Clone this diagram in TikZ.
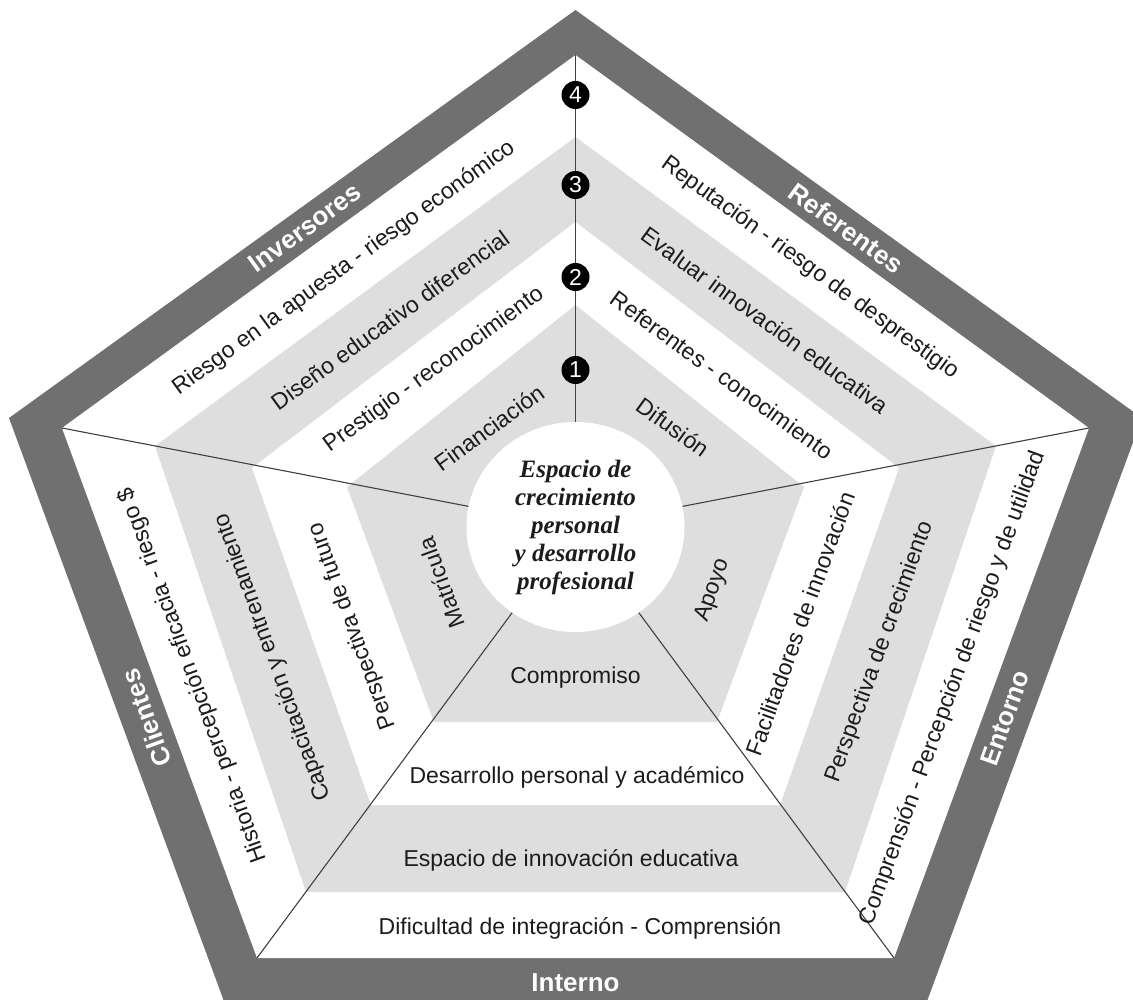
\documentclass[tikz,border=0pt]{standalone}
\usepackage{fontspec}
\setmainfont{Liberation Sans}
\newfontfamily\coreFont{Liberation Serif}
\usetikzlibrary{shapes.geometric}
\definecolor{frameGray}{RGB}{112,112,112}
\definecolor{bandGray}{RGB}{222,222,222}
\definecolor{inkGray}{RGB}{28,28,28}

\begin{document}
\begin{tikzpicture}
[x=1pt,y=-1pt,
  spokeDecorate/.style={-,line width=1.1pt,draw=black!75},%
  numDecorate/.style={shape=circle,fill=black,text=white,inner sep=0pt,minimum size=28pt,font=\fontsize{23}{23}\selectfont},%
  labelDecorate/.style={text=inkGray,inner sep=0pt,font=\fontsize{23}{26}\selectfont},%
  sideDecorate/.style={text=white,inner sep=0pt,font=\fontsize{26}{28}\selectfont\bfseries},%
  coreDecorate/.style={shape=ellipse,fill=white,inner sep=0pt,minimum width=218pt,minimum height=210pt,align=center,text=inkGray,font=\coreFont\bfseries\itshape\fontsize{25}{28}\selectfont}]
\useasboundingbox (0,0) rectangle (1133,1000);
\clip (0,0) rectangle (1133,1000);
%% corners of the pentagons
\foreach \nodename/\x/\y in {
  po-1/575.5/10, po-2/1142/418, po-3/926/1004, po-4/225/1004, po-5/9/418,
  p0-1/575.5/55, p0-2/1089/428, p0-3/894/958, p0-4/257/958, p0-5/62/428,
  p1-1/575.5/137, p1-2/996/446, p1-3/845/892, p1-4/306/892, p1-5/155/446,
  p2-1/575.5/222, p2-2/899/468, p2-3/780/805, p2-4/371/805, p2-5/252/468,
  p3-1/575.5/305, p3-2/804/487, p3-3/717/722, p3-4/434/722, p3-5/347/487}
{
  \coordinate (\nodename) at (\x,\y);
}
%% frame and bands
\foreach \k/\col in {o/frameGray, 0/white, 1/bandGray, 2/white, 3/bandGray}
{
  \fill[\col] (p\k-1) -- (p\k-2) -- (p\k-3) -- (p\k-4) -- (p\k-5) -- cycle;
}
%% centre
\node (core) at (575.5,527) [coreDecorate]
  {Espacio de\\crecimiento\\personal\\y desarrollo\\profesional};
%% spokes
\path
\foreach \endnode in {p0-1, p0-2, p0-3, p0-4, p0-5}
{
  (core) edge[spokeDecorate] (\endnode)
};
%% levels
\foreach \nodename/\y/\n in {num4/95/4, num3/185/3, num2/277/2, num1/370/1}
{
  \node (\nodename) at (575.5,\y) [numDecorate] {\n};
}
%% stakeholders on the frame
\foreach \nodename/\x/\y/\ang/\txt in {
  inversores/305/228/36/Inversores, referentes/846/228/-36/Referentes,
  clientes/146/718/110/Clientes, entorno/1005/718/70/Entorno,
  interno/575.5/983/0/Interno}
{
  \node (\nodename) at (\x,\y) [sideDecorate, rotate=\ang] {\txt};
}
%% band texts
\foreach \nodename/\x/\y/\ang/\txt in {
  riesgo/344/268/36/{Riesgo en la apuesta - riesgo económico},
  diseno/390/320/36/{Diseño educativo diferencial},
  prestigio/434/370/36/{Prestigio - reconocimiento},
  financiacion/489/428/36/{Financiación},
  reputacion/810/268/-36/{Reputación - riesgo de desprestigio},
  evaluar/765/320/-36/{Evaluar innovación educativa},
  refconoc/722/375/-36/{Referentes - conocimiento},
  difusion/673/427/-36/{Difusión},
  historia/193/675/110/{Historia - percepción eficacia - riesgo \$},
  capacitacion/273/657/110/{Capacitación y entrenamiento},
  perspfuturo/353/626/110/{Perspectiva de futuro},
  matricula/441/583/110/{Matrícula},
  comprension/953/688/70/{Comprensión - Percepción de riesgo y de utilidad},
  perspcrec/880/652/70/{Perspectiva de crecimiento},
  facilitadores/800/624/70/{Facilitadores de innovación},
  apoyo/713/590/70/{Apoyo},
  compromiso/575.5/678/0/{Compromiso},
  desarrollo/577/777/0/{Desarrollo personal y académico},
  espacio/571/860/0/{Espacio de innovación educativa},
  dificultad/580/928/0/{Dificultad de integración - Comprensión}}
{
  \node (\nodename) at (\x,\y) [labelDecorate, rotate=\ang] {\txt};
}
\end{tikzpicture}
\end{document}
